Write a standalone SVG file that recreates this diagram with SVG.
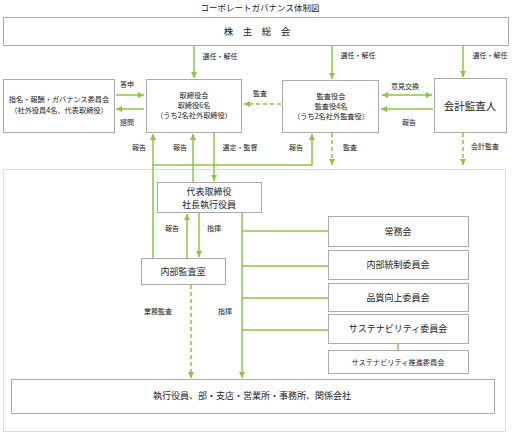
<svg xmlns="http://www.w3.org/2000/svg" width="520" height="438" viewBox="0 0 520 438">
<style>
text{font-family:"Noto Sans CJK JP","Noto Sans CJK SC",sans-serif;fill:#222;text-anchor:middle}
.box{fill:#fff;stroke:#aaa;stroke-width:1}
.t{font-size:9px}
.s{font-size:7.2px}
.l{font-size:7px}
.g{stroke:#8cc63f;stroke-width:1.5;fill:none}
.d{stroke:#8cc63f;stroke-width:1.5;fill:none;stroke-dasharray:4 3}
</style>
<defs>
<marker id="ah" viewBox="0 0 6 6" refX="6" refY="3" markerWidth="4" markerHeight="4" orient="auto"><path d="M0,0L6,3L0,6z" fill="#8cc63f"/></marker>
<marker id="as" viewBox="0 0 6 6" refX="0" refY="3" markerWidth="4" markerHeight="4" orient="auto"><path d="M6,0L0,3L6,6z" fill="#8cc63f"/></marker>
</defs>
<rect width="520" height="438" fill="#fff"/>
<text x="260" y="11" style="font-size:8.5px">コーポレートガバナンス体制図</text>
<rect x="3.5" y="169.5" width="502" height="262" fill="#fff" stroke="#ddd"/>

<g id="connectors">
<line class="g" x1="194" y1="45" x2="194" y2="78" marker-end="url(#ah)"/>
<line class="g" x1="332" y1="45" x2="332" y2="79" marker-end="url(#ah)"/>
<line class="g" x1="463" y1="45" x2="463" y2="77" marker-end="url(#ah)"/>
<line class="g" x1="116" y1="95" x2="144" y2="95" marker-end="url(#ah)"/>
<line class="g" x1="144" y1="109" x2="116" y2="109" marker-end="url(#ah)"/>
<line class="d" x1="281" y1="104" x2="244" y2="104" marker-end="url(#ah)"/>
<line class="g" x1="382" y1="95" x2="432" y2="95" marker-start="url(#as)" marker-end="url(#ah)"/>
<line class="g" x1="433" y1="109" x2="381" y2="109" marker-end="url(#ah)"/>
<line class="d" x1="332" y1="133" x2="332" y2="165" marker-end="url(#ah)"/>
<line class="d" x1="463" y1="133" x2="463" y2="165" marker-end="url(#ah)"/>
<polyline class="g" points="153,258 153,165 312,165 312,134" marker-end="url(#ah)"/>
<line class="g" x1="153" y1="165" x2="153" y2="134" marker-end="url(#ah)"/>
<line class="g" x1="193" y1="182" x2="193" y2="134" marker-end="url(#ah)"/>
<line class="g" x1="214" y1="132" x2="214" y2="181" marker-end="url(#ah)"/>
<line class="g" x1="187" y1="258" x2="187" y2="214" marker-end="url(#ah)"/>
<line class="g" x1="199" y1="212" x2="199" y2="257" marker-end="url(#ah)"/>
<line class="d" x1="191" y1="285" x2="191" y2="378" marker-end="url(#ah)"/>
<line class="g" x1="242" y1="212" x2="242" y2="378" marker-end="url(#ah)"/>
<line class="g" x1="242" y1="231" x2="328" y2="231"/>
<line class="g" x1="242" y1="266" x2="328" y2="266"/>
<line class="g" x1="242" y1="298" x2="328" y2="298"/>
<line class="g" x1="242" y1="330" x2="328" y2="330"/>
<line class="g" x1="398" y1="343" x2="398" y2="350"/>
<text class="l" x="220" y="59">選任・解任</text>
<text class="l" x="358" y="58">選任・解任</text>
<text class="l" x="490" y="58">選任・解任</text>
<text class="l" x="127" y="87">答申</text>
<text class="l" x="127" y="125">諮問</text>
<text class="l" x="260" y="96">監査</text>
<text class="l" x="405" y="89">意見交換</text>
<text class="l" x="409" y="125">報告</text>
<text class="l" x="139" y="150">報告</text>
<text class="l" x="180" y="150">報告</text>
<text class="l" x="240" y="150">選定・監督</text>
<text class="l" x="296" y="150">報告</text>
<text class="l" x="350" y="150">監査</text>
<text class="l" x="485" y="149">会計監査</text>
<text class="l" x="172" y="231">報告</text>
<text class="l" x="214" y="231">指揮</text>
<text class="l" x="158" y="314">業務監査</text>
<text class="l" x="225" y="314">指揮</text>
</g>

<g id="shareholders"><rect class="box" x="3.5" y="17.5" width="505" height="28"/><text x="257" y="35" style="font-size:9.5px">株　主　総　会</text></g>
<g id="nominating"><rect class="box" x="3.5" y="79.5" width="111" height="53"/><text class="s" x="59" y="102">指名・報酬・ガバナンス委員会</text><text class="s" x="59" y="113">（社外役員4名、代表取締役）</text></g>
<g id="board"><rect class="box" x="146.5" y="79.5" width="95" height="53"/><text class="s" x="194" y="98">取締役会</text><text class="s" x="194" y="108">取締役6名</text><text class="s" x="194" y="118">（うち2名社外取締役）</text></g>
<g id="auditboard"><rect class="box" x="282.5" y="80.5" width="96" height="52"/><text class="s" x="331" y="99">監査役会</text><text class="s" x="331" y="109">監査役4名</text><text class="s" x="331" y="119">（うち2名社外監査役）</text></g>
<g id="accountant"><rect class="box" x="434.5" y="78.5" width="72" height="54"/><text x="470" y="110" style="font-size:10.5px">会計監査人</text></g>
<g id="president"><rect class="box" x="157.5" y="182.5" width="104" height="30"/><text class="t" x="209" y="195">代表取締役</text><text class="t" x="209" y="207.5">社長執行役員</text></g>
<g id="internalaudit"><rect class="box" x="141.5" y="258.5" width="84" height="26"/><text class="t" x="183" y="275">内部監査室</text></g>
<g id="executive"><rect class="box" x="328.5" y="216.5" width="140" height="30"/><text class="t" x="398" y="235">常務会</text></g>
<g id="internalcontrol"><rect class="box" x="328.5" y="250.5" width="140" height="29"/><text class="t" x="398" y="268">内部統制委員会</text></g>
<g id="quality"><rect class="box" x="328.5" y="283.5" width="140" height="28"/><text class="t" x="398" y="301">品質向上委員会</text></g>
<g id="sustainability"><rect class="box" x="328.5" y="314.5" width="140" height="29"/><text class="t" x="398" y="332">サステナビリティ委員会</text></g>
<g id="sustainpromo"><rect class="box" x="328.5" y="350.5" width="140" height="23"/><text class="s" x="398" y="365">サステナビリティ推進委員会</text></g>
<g id="operations"><rect class="box" x="11.5" y="379.5" width="483" height="34"/><text class="t" x="252" y="399">執行役員、部・支店・営業所・事務所、関係会社</text></g>
</svg>
